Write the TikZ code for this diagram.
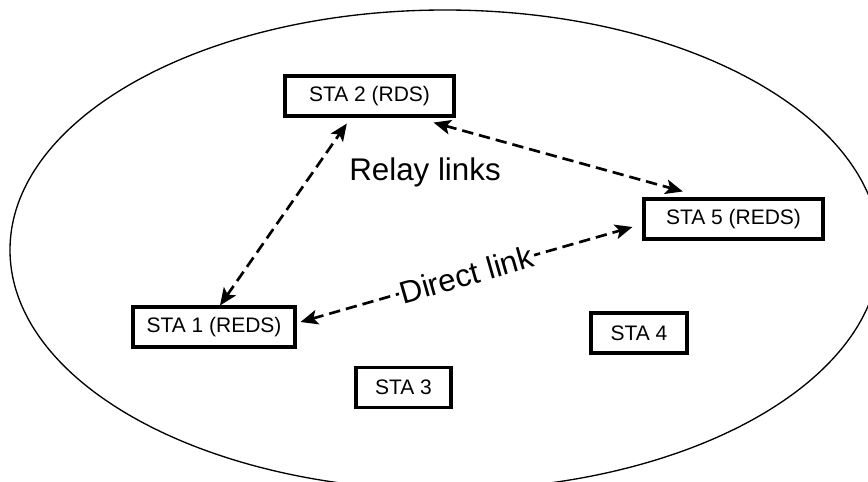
\documentclass[tikz,border=0pt]{standalone}
\usepackage{fontspec}
\setmainfont{Liberation Sans}
\usetikzlibrary{arrows.meta}

\begin{document}
\begin{tikzpicture}[x=0.75pt,y=-0.75pt]
        \tikzstyle{sta} = [draw, line width=2.3pt, minimum height=30pt, inner sep=0pt, font=\fontsize{15.75}{18}\selectfont]
        \tikzstyle{link} = [line width=2pt, dash pattern=on 8.5pt off 4.5pt, {Stealth[length=13pt,width=11pt,inset=3pt]}-{Stealth[length=13pt,width=11pt,inset=3pt]}]
        \tikzstyle{lbl} = [inner sep=1pt, font=\fontsize{23.5}{28}\selectfont]
        \useasboundingbox (0,0) rectangle (868,482);
        \clip (0,0) rectangle (868,482);
        % cell
        \draw[line width=1pt] (445,250) ellipse [x radius=326.25pt, y radius=180pt];
        % stations
        \node[sta, minimum width=121.5pt] (sta1) at (214,327) {STA 1 (REDS)};
        \node[sta, minimum width=126.75pt] (sta2) at (369.5,96) {STA 2 (RDS)};
        \node[sta, minimum width=71.25pt] (sta3) at (403.5,387.5) {STA 3};
        \node[sta, minimum width=72pt] (sta4) at (639,333) {STA 4};
        \node[sta, minimum width=134.25pt] (sta5) at (733.5,219) {STA 5 (REDS)};
        \node[lbl] (relay) at (425,172) {Relay links};
        % links
        \draw[link] ([xshift=4.5pt]sta1.north) -- ([xshift=-17pt,yshift=-4.5pt]sta2.south);
        \draw[link] ([xshift=-16.5pt,yshift=-3.75pt]sta2.south east) -- ([xshift=-38pt,yshift=4.5pt]sta5.north);
        \draw[link] ([xshift=3pt,yshift=3.75pt]sta1.east) -- ([xshift=-7.5pt,yshift=-6pt]sta5.west)
            node[lbl, midway, sloped, fill=white] (direct) {Direct link};
    \end{tikzpicture}
\end{document}
